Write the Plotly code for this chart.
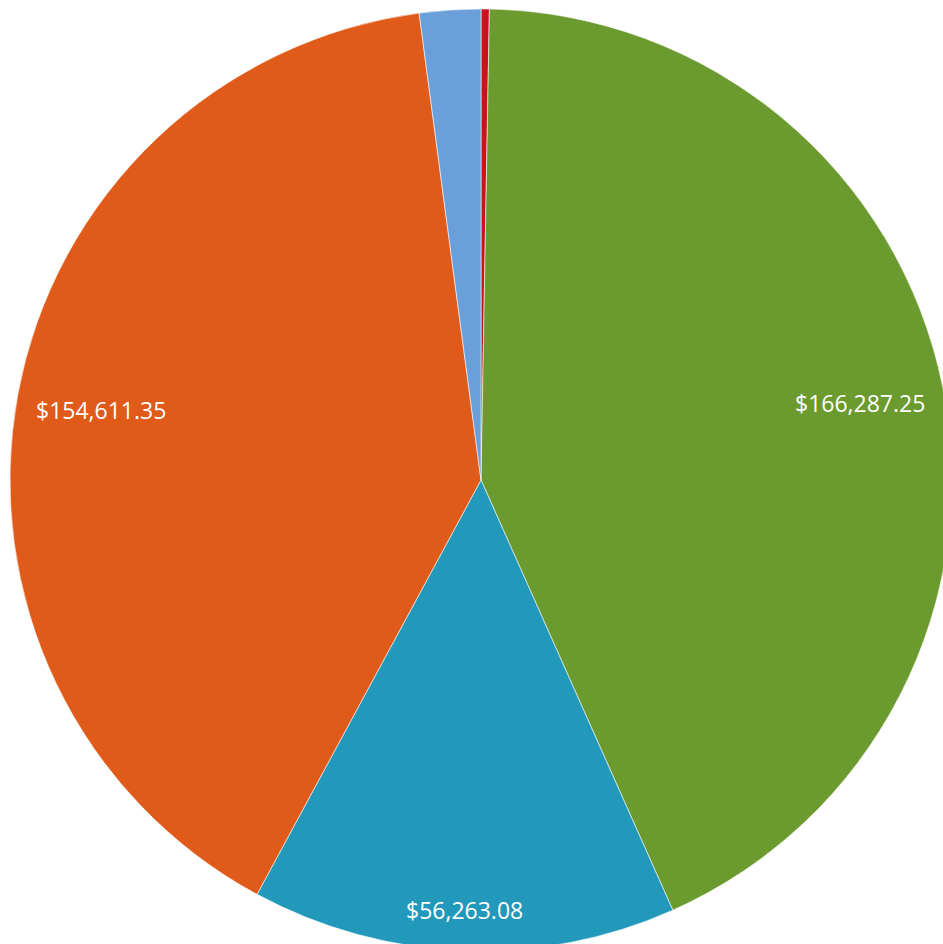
import math
import plotly.graph_objects as go

# Data
categories = ["Other A", "Green", "Teal", "Orange", "Other B"]
values = [1100.00, 166287.25, 56263.08, 154611.35, 8100.00]
colors = ["#c8141e", "#6b9a2e", "#2299bb", "#e05a1a", "#6b9fd9"]
show_label = [False, True, True, True, False]

W, H = 960, 960
# pie placement in pixels
cx, cy, R = 481, 480, 471

fig = go.Figure(go.Pie(
    labels=categories,
    values=values,
    sort=False,
    direction="clockwise",
    rotation=0,
    marker=dict(colors=colors, line=dict(color="rgba(255,255,255,0.7)", width=0.8)),
    textinfo="none",
    hoverinfo="label+value",
    showlegend=False,
    domain=dict(x=[(cx - R) / W, (cx + R) / W], y=[1 - (cy + R) / H, 1 - (cy - R) / H]),
))

# labels at "inside end" of each slice, derived from data angles
total = sum(values)
cum = 0.0
hw, hh, pad = 64, 20, 18
annotations = []
for v, show in zip(values, show_label):
    a0 = cum / total * 360
    cum += v
    a1 = cum / total * 360
    if not show:
        continue
    mid = math.radians((a0 + a1) / 2)
    s, c = math.sin(mid), math.cos(mid)
    d = hw * abs(s) + hh * abs(c) + pad
    r = R - d
    px = cx + r * s
    py = cy - r * c
    annotations.append(dict(
        x=px / W, y=1 - py / H, xref="paper", yref="paper",
        text=f"${v:,.2f}", showarrow=False,
        font=dict(family="Open Sans", size=23, color="white"),
        xanchor="center", yanchor="middle",
    ))

fig.update_layout(
    width=W, height=H,
    margin=dict(l=0, r=0, t=0, b=0),
    paper_bgcolor="white",
    plot_bgcolor="white",
    annotations=annotations,
)

fig.write_html(
    "out.html",
    post_script="document.documentElement.style.overflow='hidden';document.body.style.overflow='hidden';document.body.style.margin='0';",
)
